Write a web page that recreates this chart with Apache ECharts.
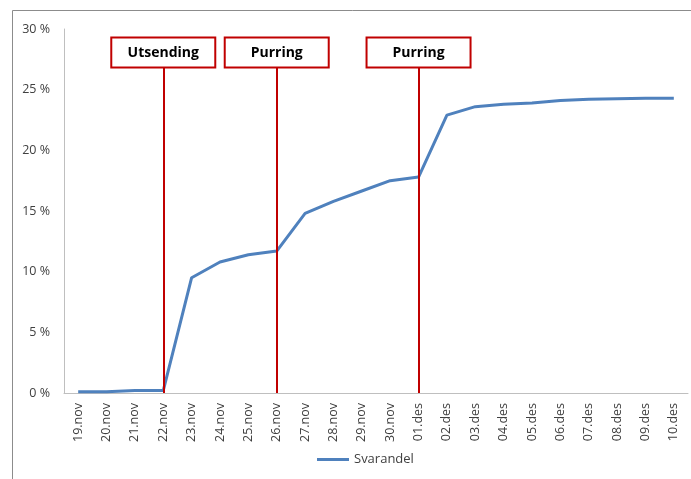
<!DOCTYPE html>
<html>
<head>
<meta charset="utf-8">
<script src="https://cdn.jsdelivr.net/npm/echarts@6/dist/echarts.min.js"></script>
<style>
  html, body { margin: 0; padding: 0; background: #fff; }
  #chart { width: 691px; height: 479px; }
</style>
</head>
<body>
<div id="chart"></div>
<script>
const dates = ['19.nov', '20.nov', '21.nov', '22.nov', '23.nov', '24.nov', '25.nov', '26.nov', '27.nov', '28.nov',
  '29.nov', '30.nov', '01.des', '02.des', '03.des', '04.des', '05.des', '06.des', '07.des', '08.des', '09.des', '10.des']
const svarandel = [0.1, 0.1, 0.2, 0.2, 9.5, 10.8, 11.4, 11.7, 14.8, 15.8,
  16.65, 17.5, 17.8, 22.9, 23.6, 23.8, 23.9, 24.1, 24.2, 24.25, 24.3, 24.3]
const events = [
  { date: '22.nov', label: 'Utsending' },
  { date: '26.nov', label: 'Purring' },
  { date: '01.des', label: 'Purring' },
]
const eventTop = 26.9

const chart = echarts.init(document.getElementById('chart'))
const font = '"Open Sans", "Liberation Sans", sans-serif'

chart.setOption({
  backgroundColor: '#ffffff',
  animation: false,
  textStyle: { fontFamily: font },
  graphic: [{
    type: 'rect',
    shape: { x: 12.5, y: 10.5, width: 720, height: 520 },
    style: { fill: 'none', stroke: '#8c8c8c', lineWidth: 1 },
    silent: true,
  }],
  grid: { left: 64, right: 3, top: 29, bottom: 86 },
  legend: {
    bottom: 8,
    left: 312,
    itemWidth: 32,
    itemHeight: 3,
    icon: 'rect',
    textStyle: { color: '#404040', fontSize: 13, fontFamily: font },
    data: ['Svarandel'],
  },
  xAxis: {
    type: 'category',
    data: dates,
    boundaryGap: true,
    axisLine: { lineStyle: { color: '#bfbfbf' } },
    axisTick: { show: false },
    axisLabel: { rotate: 90, color: '#404040', fontSize: 12.5, margin: 10 },
    splitLine: { show: false },
  },
  yAxis: {
    type: 'value',
    min: 0,
    max: 30,
    interval: 5,
    axisLine: { show: true, lineStyle: { color: '#bfbfbf' } },
    axisTick: { show: false },
    axisLabel: { formatter: '{value} %', color: '#404040', fontSize: 12.5, margin: 14 },
    splitLine: { show: false },
  },
  series: [{
    name: 'Svarandel',
    type: 'line',
    data: svarandel,
    showSymbol: false,
    symbol: 'none',
    itemStyle: { color: '#4f81bd' },
    lineStyle: { width: 3, color: '#4f81bd' },
    markLine: {
      silent: true,
      symbol: ['none', 'none'],
      lineStyle: { color: '#c00000', width: 2, type: 'solid' },
      label: {
        show: true,
        position: 'end',
        distance: 0,
        formatter: p => p.name,
        color: '#000',
        fontWeight: 'bold',
        fontSize: 14,
        backgroundColor: '#fff',
        borderColor: '#c00000',
        borderWidth: 2,
        width: 102,
        height: 28,
        lineHeight: 28,
        align: 'center',
      },
      data: events.map(e => [
        { name: e.label, coord: [e.date, 0] },
        { coord: [e.date, eventTop] },
      ]),
    },
  }],
})
</script>
</body>
</html>
